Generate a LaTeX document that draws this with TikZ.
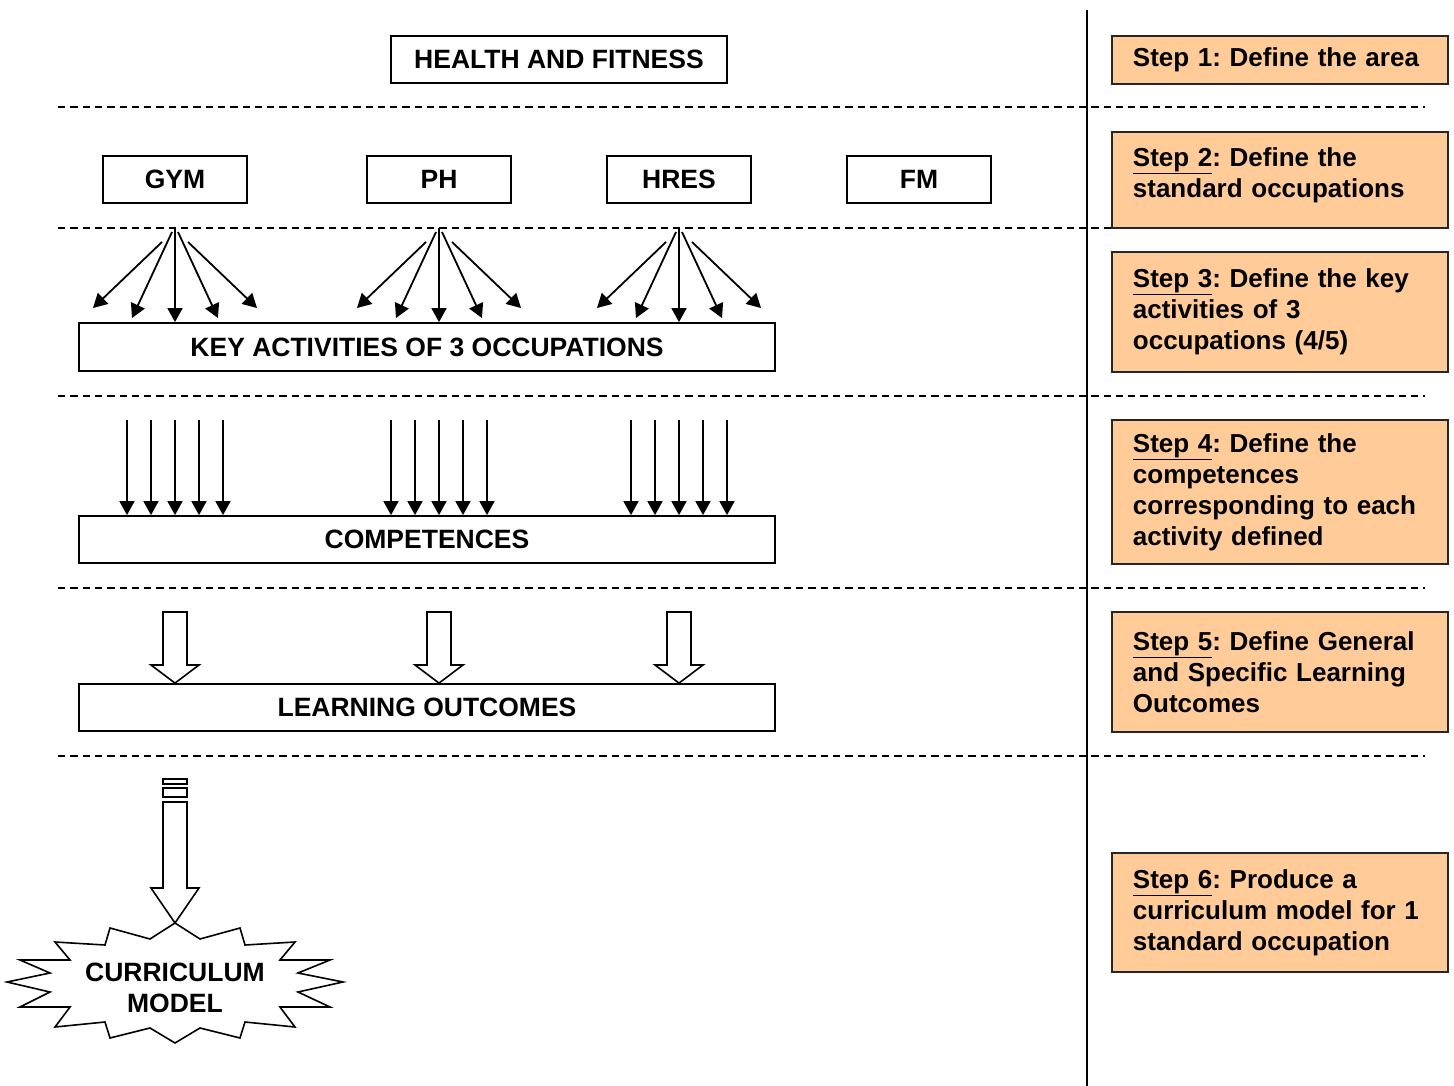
\documentclass[tikz,border=0pt]{standalone}
\usepackage{fontspec}
\setmainfont{Liberation Sans}
\usetikzlibrary{arrows.meta}
\definecolor{peach}{HTML}{FFCC99}
\frenchspacing
\begin{document}
\begin{tikzpicture}[x=1pt,y=-1pt,
  lbl/.style={font=\fontsize{26.5}{31}\selectfont\bfseries\frenchspacing},
  box/.style={draw, line width=1.8pt, lbl, inner sep=0pt, text depth=-2pt},
  stepbox/.style={draw=black!85, line width=1.8pt, fill=peach, lbl,
    font=\fontsize{26}{31}\selectfont\bfseries\frenchspacing, align=left,
    text width=300pt, inner xsep=18pt, inner ysep=0pt, minimum width=336pt, anchor=north west},
  sepline/.style={line width=1.5pt, dash pattern=on 7.3pt off 5pt},
  thinarrow/.style={line width=1.8pt, -{Triangle[length=14pt,width=15pt]}},
  hollow/.style={draw, line width=1.6pt, fill=white, line join=miter}
]
\useasboundingbox (0,0) rectangle (1454,1086);

% separators
\draw[line width=1.8pt] (1087,10) -- (1087,1086);
\foreach \y in {107,228,396,588,756} \draw[sepline] (58,\y) -- (1425,\y);

% left column boxes
\node[box, minimum width=336pt, minimum height=47pt] (hf) at (559,59.5) {HEALTH AND FITNESS};
\node[box, minimum width=144pt, minimum height=47pt] (gym) at (175,179.5) {GYM};
\node[box, minimum width=144pt, minimum height=47pt] (ph) at (439,179.5) {PH};
\node[box, minimum width=144pt, minimum height=47pt] (hres) at (679,179.5) {HRES};
\node[box, minimum width=144pt, minimum height=47pt] (fm) at (919,179.5) {FM};
\node[box, minimum width=696pt, minimum height=48pt] (ka) at (427,347) {KEY ACTIVITIES OF 3 OCCUPATIONS};
\node[box, minimum width=696pt, minimum height=47pt] (comp) at (427,539.5) {COMPETENCES};
\node[box, minimum width=696pt, minimum height=47pt] (lo) at (427,707.5) {LEARNING OUTCOMES};

% fans of arrows
\foreach \c in {175,439,679} {
  \draw[thinarrow] (\c-13,242) -- (\c-82,308);
  \draw[thinarrow] (\c-3,232) -- (\c-43,318);
  \draw[thinarrow] (\c,228) -- (ka.north -| \c,0);
  \draw[thinarrow] (\c+3,232) -- (\c+43,318);
  \draw[thinarrow] (\c+13,242) -- (\c+82,308);
  \foreach \d in {-48,-24,0,24,48}
    \draw[thinarrow] (\c+\d,420) -- (comp.north -| \c+\d,0);
  \draw[hollow] (\c-12,612) -- (\c+12,612) -- (\c+12,665) -- (\c+24,665)
     -- (lo.north -| \c,0) -- (\c-24,665) -- (\c-12,665) -- cycle;
}

% curriculum arrow and star
\draw[hollow] (163,779) rectangle (187,784);
\draw[hollow] (163,788) rectangle (187,797);
\draw[hollow] (163,802) -- (187,802) -- (187,888) -- (199,888) -- (175,923)
   -- (151,888) -- (163,888) -- cycle;
\draw[line width=1.6pt, line join=miter, fill=white]
 (175,923) -- (200,939) -- (240,928) -- (245,945) -- (295,942) -- (280,960)
 -- (330,960) -- (298,973) -- (343,982) -- (298,992) -- (330,1007) -- (280,1007)
 -- (295,1027) -- (245,1022) -- (240,1038) -- (200,1028) -- (175,1043)
 -- (150,1028) -- (110,1038) -- (105,1022) -- (55,1027) -- (70,1007) -- (20,1007)
 -- (50,992) -- (7,982) -- (50,973) -- (20,960) -- (70,960) -- (55,942)
 -- (105,945) -- (110,928) -- (150,939) -- cycle;
\node[lbl, align=center] (cm) at (175,988) {CURRICULUM\\MODEL};

% steps
\node[stepbox, minimum height=48pt] (s1) at (1111,35) {\hspace*{3pt}Step 1: Define the area};
\node[stepbox, minimum height=96pt, text depth=45pt] (s2) at (1111,131) {\hspace*{3pt}\underline{Step 2}: Define the\\\hspace*{3pt}standard occupations};
\node[stepbox, minimum height=120pt] (s3) at (1111,251) {\hspace*{3pt}\underline{Step 3}: Define the key\\\hspace*{3pt}activities of 3\\\hspace*{3pt}occupations (4/5)};
\node[stepbox, minimum height=144pt] (s4) at (1111,419) {\hspace*{3pt}\underline{Step 4}: Define the\\\hspace*{3pt}competences\\\hspace*{3pt}corresponding to each\\\hspace*{3pt}activity defined};
\node[stepbox, minimum height=120pt] (s5) at (1111,611) {\hspace*{3pt}\underline{Step 5}: Define General\\\hspace*{3pt}and Specific Learning\\\hspace*{3pt}Outcomes};
\node[stepbox, minimum height=119pt] (s6) at (1111,852) {\hspace*{3pt}\underline{Step 6}: Produce a\\\hspace*{3pt}curriculum model for 1\\\hspace*{3pt}standard occupation};
\end{tikzpicture}
\end{document}
